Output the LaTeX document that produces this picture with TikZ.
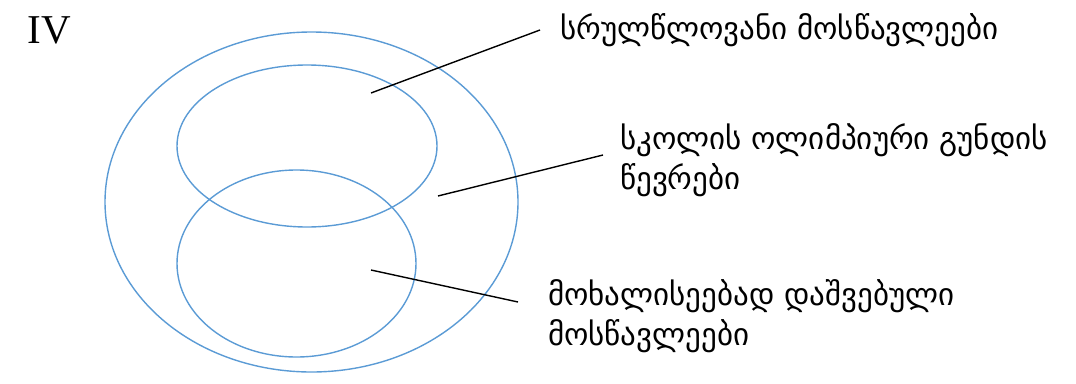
\documentclass[tikz,border=0pt]{standalone}
\usepackage{fontspec}
\usetikzlibrary{shapes.geometric,positioning}
\newfontfamily\geofont[Script=Georgian]{DejaVu Sans}
\newfontfamily\romfont{Liberation Serif}
\definecolor{setblue}{HTML}{5B9BD5}

\begin{document}
\begin{tikzpicture}[
  x=1pt, y=-1pt,
  setring/.style={draw=setblue, line width=1.4pt, ellipse, inner sep=0pt},
  lbl/.style={font=\geofont\fontsize{31}{40}\selectfont, align=left, anchor=west, inner sep=0pt},
  pointer/.style={draw=black, line width=1.4pt}
]
\useasboundingbox (0,0) rectangle (1076,383);
\node[font=\romfont\fontsize{41}{41}\selectfont, inner sep=0pt] (num) at (49,30) {IV};
% sets
\node[setring, minimum width=413pt, minimum height=340pt] (school) at (311.5,202) {};
\node[setring, minimum width=260pt, minimum height=162pt] (adult) at (307,146) {};
\node[setring, minimum width=239pt, minimum height=187pt] (volun) at (296.5,263.5) {};
% labels
\node[lbl] (adultlbl) at (560,30) {სრულწლოვანი მოსწავლეები};
\node[lbl] (schoollbl) at (620,160) {სკოლის ოლიმპიური გუნდის\\წევრები};
\node[lbl] (volunlbl) at (548,316) {მოხალისეებად დაშვებული\\მოსწავლეები};
\coordinate (adultin) at (371,93);
\coordinate (schoolin) at (438,196);
\coordinate (volunin) at (371,270);
\draw[pointer] (adultin) -- ([xshift=-20pt]adultlbl.west);
\draw[pointer] (schoolin) -- ([xshift=-17pt,yshift=5pt]schoollbl.west);
\draw[pointer] (volunin) -- ([xshift=-30pt,yshift=14pt]volunlbl.west);
\end{tikzpicture}
\end{document}
